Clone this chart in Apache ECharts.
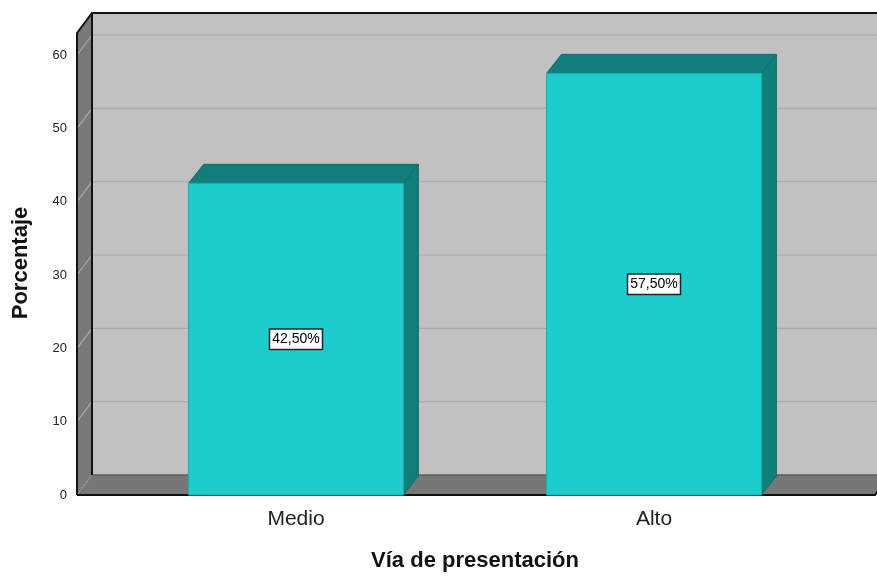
<!DOCTYPE html>
<html>
<head>
<meta charset="utf-8">
<script src="https://cdn.jsdelivr.net/npm/echarts@6/dist/echarts.min.js"></script>
<style>
	html,body{margin:0;padding:0;background:#fff;}
	#chart{width:877px;height:577px;}
</style>
</head>
<body>
<div id="chart"></div>
<script>
'use strict'
// datos
let categorias = ['Medio', 'Alto'],
	porcentajes = [42.5, 57.5],
	yTicks = [0, 10, 20, 30, 40, 50, 60];

// profundidad 3D (px)
const DX = 15, DY = -20, BDY = -19;
const WALL_GAP = 40;   // distancia entre el borde del grid y la pared izquierda
const BOX_TOP = 63;    // valor hasta donde llega la caja
const FONT = '"Liberation Sans", Arial, sans-serif';

let chart = echarts.init(document.getElementById('chart'));

function fmt(v){
	return v.toFixed(2).replace('.', ',') + '%';
}

// caja de fondo: paredes, suelo, lineas de rejilla
function renderBox(params, api){
	let cs = params.coordSys;
	let fx0 = cs.x - WALL_GAP,
		fx1 = cs.x + cs.width + 42,
		base = api.coord([0, 0])[1],
		top = api.coord([0, BOX_TOP])[1];
	let children = [];
	// pared trasera
	children.push({type:'rect', shape:{x:fx0+DX, y:top+DY, width:fx1-fx0+40, height:base-top}, style:{fill:'#c1c1c1'}});
	// pared izquierda
	children.push({type:'polygon', shape:{points:[[fx0,top],[fx0+DX,top+DY],[fx0+DX,base+DY],[fx0,base]]}, style:{fill:'#787878'}});
	// suelo
	children.push({type:'polygon', shape:{points:[[fx0,base],[fx0+DX,base+DY],[fx1+DX,base+DY],[fx1,base]]}, style:{fill:'#777777'}});
	children.push({type:'line', shape:{x1:fx0+DX, y1:base+DY, x2:fx1+DX+40, y2:base+DY}, style:{stroke:'#5e5e5e', lineWidth:1.5}});
	// rejilla
	yTicks.forEach(v => {
		let y = api.coord([0, v])[1];
		if(v === 0){
			children.push({type:'line', shape:{x1:fx0, y1:y, x2:fx0+DX, y2:y+DY}, style:{stroke:'#a8a8a8', lineWidth:1, lineDash:[2,2]}});
			return;
		}
		children.push({type:'polyline', shape:{points:[[fx0,y],[fx0+DX,y+DY],[fx1+DX+40,y+DY]]}, style:{stroke:'#aaaaaa', lineWidth:1.2, fill:null}});
	});
	// bordes
	children.push({type:'polyline', shape:{points:[[fx0,base],[fx0,top],[fx0+DX,top+DY],[fx1+DX+40,top+DY]]}, style:{stroke:'#111', lineWidth:2, fill:null}});
	children.push({type:'line', shape:{x1:fx0+DX, y1:top+DY, x2:fx0+DX, y2:base+DY}, style:{stroke:'#111', lineWidth:2}});
	children.push({type:'polyline', shape:{points:[[fx0,base],[fx1,base],[fx1+DX,base+DY]]}, style:{stroke:'#111', lineWidth:2, fill:null}});
	return {type:'group', children:children};
}

// barras 3D
function renderBar(params, api){
	let idx = api.value(0), val = api.value(1);
	let p = api.coord([idx, val]),
		b = api.coord([idx, 0]),
		w = api.size([1, 0])[0] * 0.6;
	let x0 = p[0] - w/2, x1 = p[0] + w/2, top = p[1], base = b[1];
	return {type:'group', children:[
		{type:'polygon', shape:{points:[[x1,top],[x1+DX,top+BDY],[x1+DX,base+BDY],[x1,base]]}, style:{fill:'#127e7a', stroke:'#0f6d69', lineWidth:1}},
		{type:'polygon', shape:{points:[[x0,top],[x0+DX,top+BDY],[x1+DX,top+BDY],[x1,top]]}, style:{fill:'#127e7a', stroke:'#0f6d69', lineWidth:1}},
		{type:'rect', shape:{x:x0, y:top, width:w, height:base-top}, style:{fill:'#1dcdcd', stroke:'#17b0ae', lineWidth:1}},
		{type:'text', x:p[0], y:(top+base)/2, style:{
			text:fmt(val), align:'center', verticalAlign:'middle',
			font:'14px ' + FONT, fill:'#000',
			backgroundColor:'#fff', borderColor:'#222', borderWidth:1.5, padding:[3,2,2,2]
		}}
	]};
}

let option = {
	animation:false,
	grid:{left:117, right:44, top:55, bottom:82},
	xAxis:{
		type:'category',
		data:categorias,
		axisLine:{show:false},
		axisTick:{show:false},
		axisLabel:{fontSize:21, color:'#222', margin:14, fontFamily:FONT},
		name:'Vía de presentación',
		nameLocation:'middle',
		nameGap:55,
		nameTextStyle:{fontSize:22, fontWeight:'bold', color:'#111', fontFamily:FONT}
	},
	yAxis:{
		type:'value',
		min:0, max:60, interval:10,
		axisLine:{show:false},
		axisTick:{show:false},
		splitLine:{show:false},
		axisLabel:{fontSize:13, color:'#222', margin:50, fontFamily:FONT},
		name:'Porcentaje',
		nameLocation:'middle',
		nameGap:85,
		nameRotate:90,
		nameTextStyle:{fontSize:22, fontWeight:'bold', color:'#111', fontFamily:FONT, padding:[0, 0, 0, 24]}
	},
	series:[{
		type:'custom',
		name:'caja',
		silent:true,
		z:1,
		renderItem:renderBox,
		data:[[0, 0]]
	},{
		type:'custom',
		name:'Porcentaje',
		z:5,
		renderItem:renderBar,
		encode:{x:0, y:1},
		data:porcentajes.map((v, i) => [i, v])
	}]
};
chart.setOption(option);
</script>
</body>
</html>
